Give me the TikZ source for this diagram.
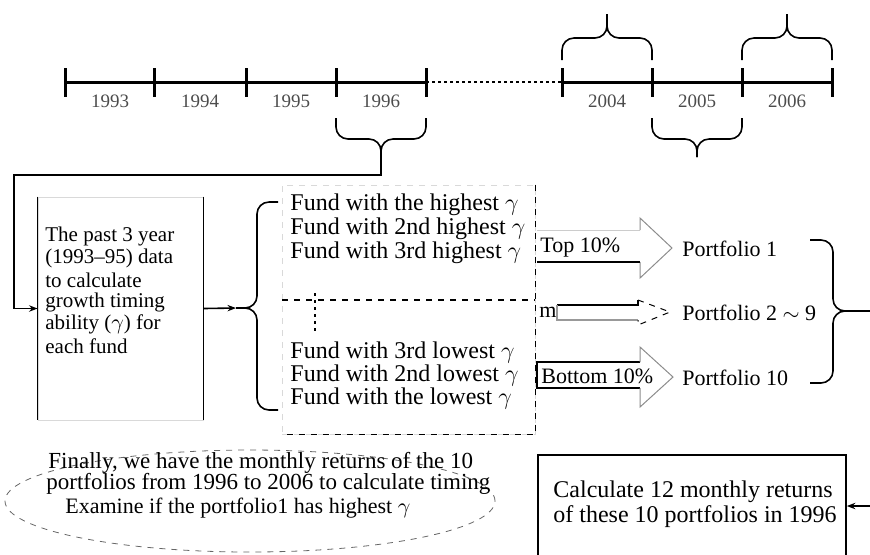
\documentclass[tikz,border=0pt]{standalone}
\usepackage{fontspec}
\setmainfont{Liberation Serif}
\usetikzlibrary{arrows.meta,positioning,shapes.geometric}

\begin{document}
\begin{tikzpicture}[
  x=0.5pt,y=-0.5pt,
  yearlbl/.style={font=\fontsize{9.5}{10}\selectfont,text=black!70,inner sep=0pt},
  axis/.style={line width=1.5pt},
  brk/.style={line width=0.8pt,rounded corners=6pt},
  txt/.style={font=\fontsize{11}{11}\selectfont,align=left,inner sep=0pt,anchor=west},
  bigtxt/.style={txt,font=\fontsize{12}{12.5}\selectfont},
  dashline/.style={dashed,line width=0.7pt},
  arrbody/.style={line width=0.7pt},
  arrhead/.style={draw=black!45,line width=0.5pt},
  >={Stealth[length=1.5mm]}
]
\useasboundingbox (0,0) rectangle (870,554);

% time line
\foreach \x in {65,154,246,336,426,562,652,742,832}
  \draw[axis] (\x,68) -- (\x,97);
\draw[axis] (65,82) -- (426,82);
\draw[line width=1.2pt,dash pattern=on 1.4pt off 1.6pt] (426,82) -- (562,82);
\draw[axis] (562,82) -- (832,82);
\foreach \x/\yr in {110/1993,200/1994,291/1995,381/1996,607/2004,697/2005,787/2006}
  \node[yearlbl] (y\yr) at (\x,101) {\yr};

% braces on the years
\foreach \xa/\xb/\ye/\yb/\yt in {336/426/118/139/153,562/652/60/38/14,652/742/118/139/157,742/832/60/38/14} {
  \draw[brk] (\xa,\ye) -- (\xa,\yb) -- ({(\xa+\xb)/2},\yb) -- ({(\xa+\xb)/2},\yt);
  \draw[brk] (\xb,\ye) -- (\xb,\yb) -- ({(\xa+\xb)/2},\yb) -- ({(\xa+\xb)/2},\yt);
}
\coordinate (b96) at (381,153);

% estimation window
\node[draw=black!15,minimum width=82.5pt,minimum height=111.5pt] (pastbox) at (120.5,308.5) {};
\draw[line width=0.8pt] (pastbox.north west) -- (pastbox.south west);
\draw[line width=0.8pt] (pastbox.north east) -- (pastbox.south east);
\foreach \ln [count=\i] in {The past 3 year,(1993--95) data,to calculate,growth timing,ability ($\gamma$) for,each fund}
  \node[txt,font=\fontsize{10.5}{11}\selectfont] (past\i) at (45,{214+22*\i}) {\ln};
\draw[->,line width=0.8pt] (b96) |- (14,175) |- (pastbox.west);

% ranking of the funds
\draw[brk] (278,202) -- (257,202) -- (257,308) -- (236,308);
\draw[brk] (278,410) -- (257,410) -- (257,308) -- (236,308);
\coordinate (lbr) at (236,308);
\draw[->,line width=0.8pt] (pastbox.east) -- (lbr);
\node[draw=black!15,dashed,minimum width=126.5pt,minimum height=124.5pt] (fundbox) at (408.5,309.5) {};
\draw[dashline] (fundbox.north east) -- (fundbox.south east) -- (fundbox.south west);
\coordinate (midl) at (282,300);
\coordinate (midr) at (535,300);
\draw[dashline] (midl) -- (midr);
\draw[line width=1pt,dash pattern=on 1.5pt off 2pt] (315,293) -- (315,333);
\node[bigtxt] (f1) at (290,205) {Fund with the highest $\gamma$};
\node[bigtxt] (f2) at (290,229) {Fund with 2nd highest $\gamma$};
\node[bigtxt] (f3) at (290,253) {Fund with 3rd highest $\gamma$};
\node[bigtxt] (f4) at (290,352) {Fund with 3rd lowest $\gamma$};
\node[bigtxt] (f5) at (290,375) {Fund with 2nd lowest $\gamma$};
\node[bigtxt] (f6) at (290,398) {Fund with the lowest $\gamma$};

% sorting into portfolios
\draw[arrhead,draw=black!20] (537,230) -- (640,230);
\draw[arrhead] (640,230) -- (640,218) -- (672,248) -- (640,278) -- (640,262);
\draw[arrbody] (537,262) -- (640,262);
\node[txt] (top) at (540,248) {Top 10\%};
\draw[arrbody] (557,305) -- (638,305) -- (638,300);
\draw[arrbody,draw=black!40] (557,305) -- (557,320) -- (638,320);
\draw[arrhead,dashed,draw=black] (638,300) -- (670,312) -- (638,325) -- (638,320);
\node[txt] (mid) at (539,312) {m};
\draw[arrbody] (640,362) -- (537,362) -- (537,388) -- (640,388);
\draw[arrhead] (640,362) -- (640,347) -- (673,377) -- (640,407) -- (640,388);
\node[txt] (bot) at (541,376) {Bottom 10\%};
\node[txt] (p1) at (682,249) {Portfolio 1};
\node[txt] (p2) at (682,313) {Portfolio 2 $\sim$ 9};
\node[txt] (p10) at (682,378) {Portfolio 10};

% monthly returns
\draw[brk] (810,240) -- (833,240) -- (833,311) -- (846,311);
\draw[brk] (810,383) -- (833,383) -- (833,311) -- (846,311);
\coordinate (rbr) at (846,311);
\coordinate (edge) at (880,311);
\node[draw,line width=0.8pt,minimum width=154pt,minimum height=51pt] (calcbox) at (692,506) {};
\node[bigtxt] (calctxt) at (553,504) {Calculate 12 monthly returns\\of these 10 portfolios in 1996};
\draw[->,line width=0.8pt] (rbr) -- (edge) |- (calcbox.east);

% final test
\node[ellipse,draw=black!60,dashed,minimum width=245pt,minimum height=51pt] (final) at (250,501) {};
\node[txt,font=\fontsize{11.5}{10}\selectfont] (fin1) at (48,463) {Finally, we have the monthly returns of the 10};
\node[txt,font=\fontsize{11.5}{10}\selectfont] (fin2) at (46,484) {portfolios from 1996 to 2006 to calculate timing};
\node[txt] (fin3) at (65,508) {Examine if the portfolio1 has highest $\gamma$};
\end{tikzpicture}
\end{document}
